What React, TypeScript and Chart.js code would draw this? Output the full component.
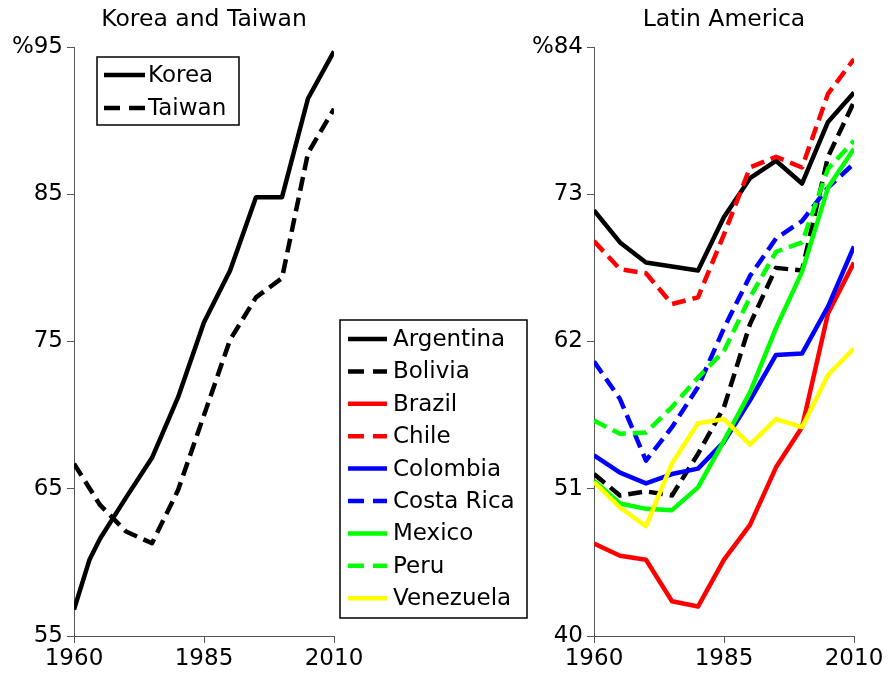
import React, { useEffect, useRef } from 'react';
import { Chart, registerables } from 'chart.js';
Chart.register(...registerables);

// ---------- data ----------
const years = [1960, 1965, 1970, 1975, 1980, 1985, 1990, 1995, 2000, 2005, 2010];
const koreaYears = [1960, 1963, 1965, 1970, 1975, 1980, 1985, 1990, 1995, 2000, 2005, 2010];
const korea = [56.8, 60.2, 61.6, 64.4, 67.1, 71.2, 76.3, 79.8, 84.8, 84.8, 91.5, 94.7];
const taiwan = [66.7, 63.9, 62.1, 61.3, 64.9, 70.0, 75.1, 78.0, 79.3, 87.8, 90.8];

const argentina = [71.8, 69.4, 67.9, 67.6, 67.3, 71.3, 74.2, 75.5, 73.8, 78.4, 80.6];
const bolivia = [52.1, 50.5, 50.8, 50.5, 53.6, 57.1, 63.3, 67.5, 67.3, 75.8, 79.9];
const brazil = [46.9, 46.0, 45.7, 42.6, 42.2, 45.7, 48.3, 52.6, 55.6, 64.1, 67.9];
const chile = [69.5, 67.4, 67.1, 64.8, 65.3, 70.0, 75.0, 75.8, 75.0, 80.5, 83.1];
const colombia = [53.5, 52.2, 51.4, 52.1, 52.5, 54.5, 57.6, 61.0, 61.1, 64.6, 69.1];
const costaRica = [60.5, 57.7, 53.1, 55.6, 58.6, 63.0, 66.9, 69.7, 71.0, 73.5, 75.3];
const mexico = [51.6, 49.9, 49.5, 49.4, 51.1, 54.6, 58.2, 63.0, 67.2, 73.5, 76.4];
const peru = [56.1, 55.1, 55.2, 57.1, 59.3, 61.3, 65.3, 68.7, 69.4, 74.9, 77.0];
const venezuela = [51.5, 49.6, 48.2, 52.9, 55.9, 56.2, 54.3, 56.2, 55.6, 59.5, 61.5];

const leftTitle = 'Korea and Taiwan';
const rightTitle = 'Latin America';
const leftTicksY = { min: 55, max: 95, step: 10 };
const rightTicksY = { min: 40, max: 84, step: 11 };
const xTicks = { min: 1960, max: 2010, step: 25 };

// ---------- styles ----------
const FONT = '"DejaVu Sans", "Liberation Sans", Arial, sans-serif';
const LINE_DASH = [14, 7];
const LEGEND_DASH = [16, 9];
const LW = 4.5;

type Series = { label: string; xs: number[]; ys: number[]; color: string; dashed: boolean };

const leftSeries: Series[] = [
  { label: 'Korea', xs: koreaYears, ys: korea, color: '#000000', dashed: false },
  { label: 'Taiwan', xs: years, ys: taiwan, color: '#000000', dashed: true },
];
const rightSeries: Series[] = [
  { label: 'Argentina', xs: years, ys: argentina, color: '#000000', dashed: false },
  { label: 'Bolivia', xs: years, ys: bolivia, color: '#000000', dashed: true },
  { label: 'Brazil', xs: years, ys: brazil, color: '#ff0000', dashed: false },
  { label: 'Chile', xs: years, ys: chile, color: '#ff0000', dashed: true },
  { label: 'Colombia', xs: years, ys: colombia, color: '#0000ff', dashed: false },
  { label: 'Costa Rica', xs: years, ys: costaRica, color: '#0000ff', dashed: true },
  { label: 'Mexico', xs: years, ys: mexico, color: '#00ff00', dashed: false },
  { label: 'Peru', xs: years, ys: peru, color: '#00ff00', dashed: true },
  { label: 'Venezuela', xs: years, ys: venezuela, color: '#ffff00', dashed: false },
];

type LegendBox = { x0: number; y0: number; x1: number; y1: number; lx0: number; lx1: number; tx: number; ry0: number; row: number; fs: number };

function makePlugins(title: string, series: Series[], box: LegendBox) {
  return [
    {
      id: 'titleAndLegend',
      afterDraw(chart: any) {
        const ctx = chart.ctx as CanvasRenderingContext2D;
        const ca = chart.chartArea;
        ctx.save();
        // title
        ctx.fillStyle = '#000';
        ctx.font = `23.5px ${FONT}`;
        ctx.textAlign = 'center';
        ctx.textBaseline = 'middle';
        ctx.fillText(title, (ca.left + ca.right) / 2, 20);
        // legend box
        ctx.fillStyle = '#fff';
        ctx.fillRect(box.x0, box.y0, box.x1 - box.x0, box.y1 - box.y0);
        ctx.strokeStyle = '#000';
        ctx.lineWidth = 1.5;
        ctx.setLineDash([]);
        ctx.strokeRect(box.x0, box.y0, box.x1 - box.x0, box.y1 - box.y0);
        series.forEach((s, i) => {
          const y = box.ry0 + i * box.row;
          ctx.beginPath();
          ctx.setLineDash(s.dashed ? LEGEND_DASH : []);
          ctx.strokeStyle = s.color;
          ctx.lineWidth = LW;
          ctx.lineCap = 'butt';
          ctx.moveTo(box.lx0, y);
          ctx.lineTo(box.lx1, y);
          ctx.stroke();
          ctx.setLineDash([]);
          ctx.fillStyle = '#000';
          ctx.font = `${box.fs}px ${FONT}`;
          ctx.textAlign = 'left';
          ctx.textBaseline = 'middle';
          ctx.fillText(s.label, box.tx, y + 1);
        });
        ctx.restore();
      },
    },
  ];
}

function buildConfig(
  series: Series[],
  yT: { min: number; max: number; step: number },
  yWidth: number,
  padRight: number,
  title: string,
  box: LegendBox
): any {
  const n = series.length;
  const axisColor = '#555555';
  return {
    type: 'line',
    data: {
      datasets: series.map((s, i) => ({
        label: s.label,
        data: s.xs.map((x, j) => ({ x, y: s.ys[j] })),
        borderColor: s.color,
        backgroundColor: s.color,
        borderWidth: LW,
        borderDash: s.dashed ? LINE_DASH : [],
        borderCapStyle: 'butt',
        borderJoinStyle: 'round',
        pointRadius: 0,
        tension: 0,
        fill: false,
        order: n - i,
      })),
    },
    options: {
      responsive: false,
      animation: false,
      devicePixelRatio: 1,
      layout: { padding: { left: 0, right: padRight, top: 47, bottom: 0 } },
      plugins: { legend: { display: false }, title: { display: false }, tooltip: { enabled: false } },
      scales: {
        x: {
          type: 'linear',
          min: xTicks.min,
          max: xTicks.max,
          ticks: {
            stepSize: xTicks.step,
            color: '#000',
            font: { family: FONT, size: 23 },
            padding: 2,
            maxRotation: 0,
            callback: (v: number) => String(v),
          },
          grid: { display: true, drawOnChartArea: false, drawTicks: true, tickLength: 7, color: axisColor, lineWidth: 1 },
          border: { display: true, color: axisColor, width: 1 },
          afterFit: (s: any) => {
            s.height = 39;
          },
        },
        y: {
          type: 'linear',
          min: yT.min,
          max: yT.max,
          ticks: {
            stepSize: yT.step,
            color: '#000',
            font: { family: FONT, size: 23 },
            padding: 4,
            callback: (v: number) => (v === yT.max ? '%' + v : String(v)),
          },
          grid: { display: true, drawOnChartArea: false, drawTicks: true, tickLength: 7, color: axisColor, lineWidth: 1 },
          border: { display: true, color: axisColor, width: 1 },
          afterFit: (s: any) => {
            s.width = yWidth;
          },
        },
      },
    },
    plugins: makePlugins(title, series, box),
  };
}

function Panel(props: { left: number; width: number; build: () => any }) {
  const ref = useRef<HTMLCanvasElement | null>(null);
  useEffect(() => {
    if (!ref.current) return;
    const chart = new Chart(ref.current, props.build());
    return () => chart.destroy();
  }, []);
  return (
    <canvas
      ref={ref}
      width={props.width}
      height={675}
      style={{ position: 'absolute', left: props.left, top: 0, width: props.width, height: 675 }}
    />
  );
}

export default function App() {
  const leftBox: LegendBox = { x0: 97, y0: 57, x1: 239, y1: 125, lx0: 104, lx1: 145, tx: 148, ry0: 75, row: 33, fs: 23 };
  const rightBox: LegendBox = { x0: 10, y0: 320, x1: 197, y1: 618, lx0: 18, lx1: 57, tx: 63, ry0: 339, row: 32.4, fs: 23 };
  return (
    <div style={{ position: 'absolute', left: 0, top: 0, width: 888, height: 675, background: '#fff', overflow: 'hidden' }}>
      <Panel left={0} width={380} build={() => buildConfig(leftSeries, leftTicksY, 74, 46, leftTitle, leftBox)} />
      <Panel left={330} width={558} build={() => buildConfig(rightSeries, rightTicksY, 264, 34, rightTitle, rightBox)} />
    </div>
  );
}
